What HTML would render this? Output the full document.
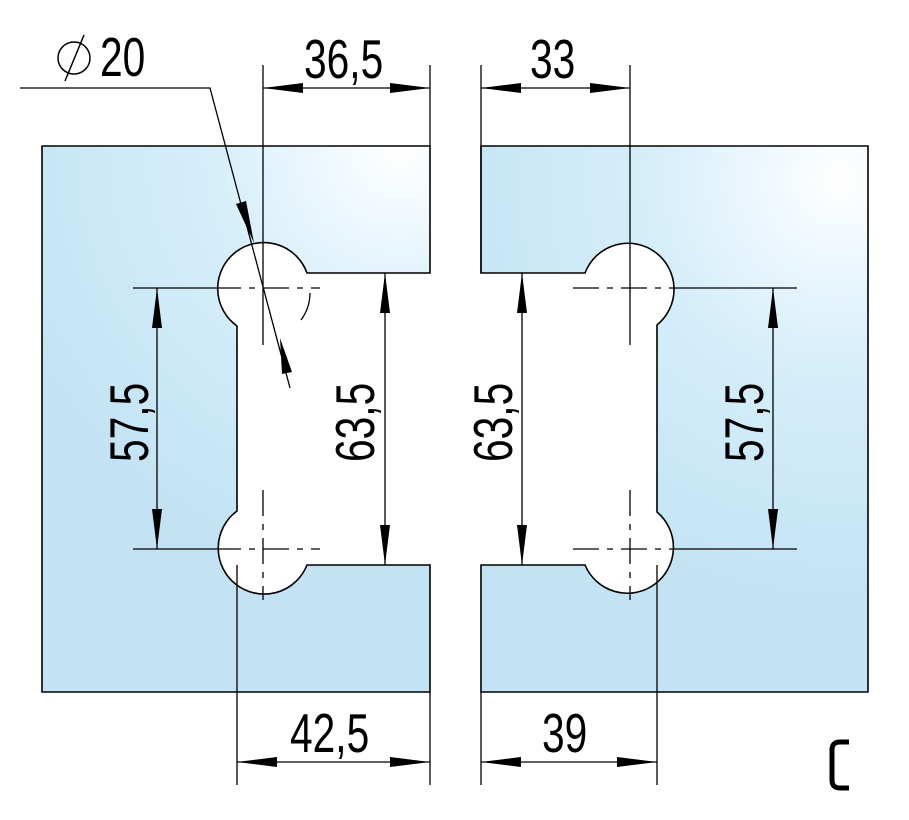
<!DOCTYPE html>
<html><head><meta charset="utf-8"><style>html,body{margin:0;padding:0;background:#fff}svg{display:block}</style></head><body>
<svg width="909" height="820" viewBox="0 0 909 820" xmlns="http://www.w3.org/2000/svg" font-family="Liberation Sans, sans-serif">
<defs>
<radialGradient id="g1" cx="400" cy="150" r="420" gradientUnits="userSpaceOnUse"><stop offset="0" stop-color="#ffffff"/><stop offset="0.45" stop-color="#d6eefa"/><stop offset="1" stop-color="#c3e3f4"/></radialGradient>
<radialGradient id="g2" cx="840" cy="180" r="420" gradientUnits="userSpaceOnUse"><stop offset="0" stop-color="#ffffff"/><stop offset="0.45" stop-color="#d6eefa"/><stop offset="1" stop-color="#c3e3f4"/></radialGradient>
<marker id="a" viewBox="0 0 40 10" refX="40" refY="5" markerWidth="40" markerHeight="10" markerUnits="userSpaceOnUse" orient="auto-start-reverse"><path d="M0,0 L40,5 L0,10Z" fill="#000"/></marker>
</defs>
<g stroke="#000" stroke-width="1.6">
<path d="M42,146 H430 V273 H307 A46,46 0 1 0 237,326 V511 A46,46 0 1 0 307,565 H430 V692 H42 Z" fill="url(#g1)"/>
<path d="M481,146 H868 V692 H481 V565 H585 A46,46 0 1 0 657,512 V325 A46,46 0 1 0 585,273 H481 Z" fill="url(#g2)"/>
</g>
<g stroke="#000" stroke-width="1.3" fill="none">
<path d="M263,65V345 M430,65V146 M481,65V273 M630,65V345 M237,565V785 M430,692V785 M481,692V785 M657,565V785"/>
<path d="M133,288H215 M133,549H215 M677,288H797 M677,549H797"/>
<path d="M20,88H210L290,388"/>
<path d="M310,293 A46,46 0 0 1 301,320"/>
</g>
<g stroke="#000" stroke-width="1.3" stroke-dasharray="26,8,6,8" fill="none">
<path d="M215,288H320 M215,549H320 M573,288H677 M573,549H677"/>
<path d="M263,490V600 M630,490V600"/>
</g>
<g stroke="#000" stroke-width="1.3" fill="none">
<path d="M263,88H430" marker-start="url(#a)" marker-end="url(#a)"/>
<path d="M481,88H630" marker-start="url(#a)" marker-end="url(#a)"/>
<path d="M237,762H430" marker-start="url(#a)" marker-end="url(#a)"/>
<path d="M481,762H657" marker-start="url(#a)" marker-end="url(#a)"/>
<path d="M157,288V549" marker-start="url(#a)" marker-end="url(#a)"/>
<path d="M385,273V565" marker-start="url(#a)" marker-end="url(#a)"/>
<path d="M522,273V565" marker-start="url(#a)" marker-end="url(#a)"/>
<path d="M773,288V549" marker-start="url(#a)" marker-end="url(#a)"/>
</g>
<path d="M236,204 L246,201 L254,243Z" fill="#000"/>
<path d="M280,338 L292,372 L282,374Z" fill="#000"/>
<g font-size="55" fill="#000">
<text transform="translate(304,78) scale(0.74,1)">36,5</text>
<text transform="translate(530,78) scale(0.74,1)">33</text>
<text transform="translate(290,752) scale(0.74,1)">42,5</text>
<text transform="translate(542,752) scale(0.74,1)">39</text>
<text transform="translate(100,76) scale(0.74,1)">20</text>
<text transform="translate(148,462) rotate(-90) scale(0.74,1)">57,5</text>
<text transform="translate(374,462) rotate(-90) scale(0.74,1)">63,5</text>
<text transform="translate(512,462) rotate(-90) scale(0.74,1)">63,5</text>
<text transform="translate(763,462) rotate(-90) scale(0.74,1)">57,5</text>
</g>
<g stroke="#000" stroke-width="1.5" fill="none">
<ellipse cx="74" cy="58" rx="16" ry="16"/>
<path d="M65,81 L84,35"/>
</g>
<path d="M849,742 H840 Q832,742 832,750 V780 Q832,788 840,788 H849" stroke="#000" stroke-width="5" fill="none"/>
</svg>
</body></html>
